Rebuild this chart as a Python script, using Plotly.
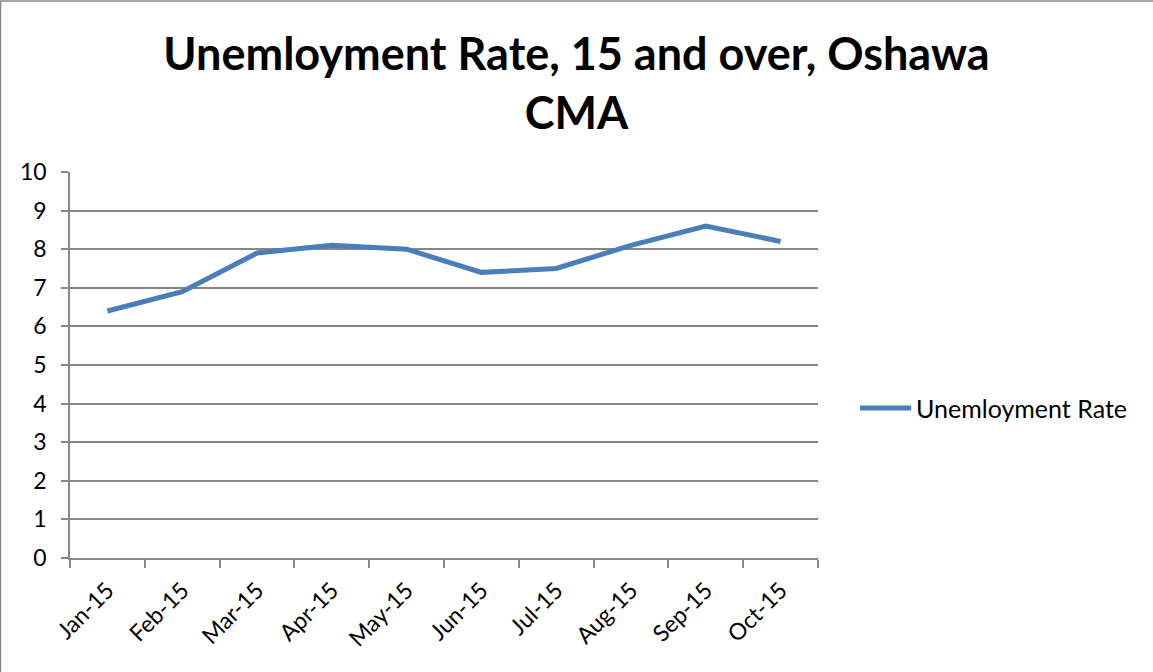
import plotly.graph_objects as go

# Monthly unemployment rate, population 15 and over, Oshawa CMA (2015)
months = ["Jan-15", "Feb-15", "Mar-15", "Apr-15", "May-15",
          "Jun-15", "Jul-15", "Aug-15", "Sep-15", "Oct-15"]
unemployment_rate = [6.4, 6.9, 7.9, 8.1, 8.0, 7.4, 7.5, 8.1, 8.6, 8.2]
y_ticks = list(range(0, 11))
series_name = "Unemloyment Rate"

W, H = 1153, 672
L, R, T, B = 70, 335, 172, 114
plot_w = W - L - R
plot_h = H - T - B

AXIS_GRAY = "#868686"
LINE_BLUE = "#4a7ebb"
FONT = "Lato"
LABEL_SIZE = 23
LEGEND_SIZE = 25


def px_x(px):
    return (px - L) / plot_w


def px_y(py):
    return (H - B - py) / plot_h


fig = go.Figure()
fig.add_trace(go.Scatter(
    x=months,
    y=unemployment_rate,
    mode="lines",
    name=series_name,
    line=dict(color=LINE_BLUE, width=5),
    showlegend=False,
))

legend_y = px_y(408)

fig.update_layout(
    width=W,
    height=H,
    margin=dict(l=L, r=R, t=T, b=B, pad=0),
    paper_bgcolor="white",
    plot_bgcolor="white",
    font=dict(family=FONT, size=LABEL_SIZE, color="black"),
    title=dict(
        text="<b>Unemloyment Rate, 15 and over, Oshawa<br>CMA</b>",
        x=0.5, xanchor="center",
        y=1 - 70 / H, yanchor="middle",
        font=dict(family=FONT, size=45, color="black"),
    ),
    showlegend=False,
    xaxis=dict(
        type="category",
        range=[-0.5, len(months) - 0.5],
        showgrid=False,
        showline=True,
        linecolor=AXIS_GRAY,
        linewidth=1.5,
        ticks="outside",
        tickson="boundaries",
        ticklen=8,
        tickcolor=AXIS_GRAY,
        tickwidth=1.5,
        tickangle=-45,
        ticklabelstandoff=8,
        tickfont=dict(family=FONT, size=LABEL_SIZE, color="black"),
        fixedrange=True,
    ),
    yaxis=dict(
        range=[0, 10],
        tickvals=y_ticks,
        showgrid=True,
        gridcolor=AXIS_GRAY,
        gridwidth=1.5,
        showline=True,
        linecolor=AXIS_GRAY,
        linewidth=1.5,
        ticks="outside",
        ticklen=7,
        tickcolor=AXIS_GRAY,
        tickwidth=1.5,
        ticklabelstandoff=10,
        zeroline=False,
        tickfont=dict(family=FONT, size=LABEL_SIZE, color="black"),
        fixedrange=True,
    ),
    shapes=[
        # chart frame (top and left edges visible)
        dict(
            type="rect", xref="paper", yref="paper",
            x0=px_x(0.5), x1=px_x(W + 20),
            y0=px_y(H + 20), y1=px_y(1),
            line=dict(color=AXIS_GRAY, width=1.5),
            fillcolor="rgba(0,0,0,0)",
            layer="below",
        ),
        # legend key
        dict(
            type="line", xref="paper", yref="paper",
            x0=px_x(860), x1=px_x(911),
            y0=legend_y, y1=legend_y,
            line=dict(color=LINE_BLUE, width=5),
        ),
    ],
    annotations=[
        dict(
            text=series_name, xref="paper", yref="paper",
            x=px_x(914), y=legend_y,
            xanchor="left", yanchor="middle", showarrow=False,
            font=dict(family=FONT, size=LEGEND_SIZE, color="black"),
        ),
    ],
)

fig.write_html("out.html")
